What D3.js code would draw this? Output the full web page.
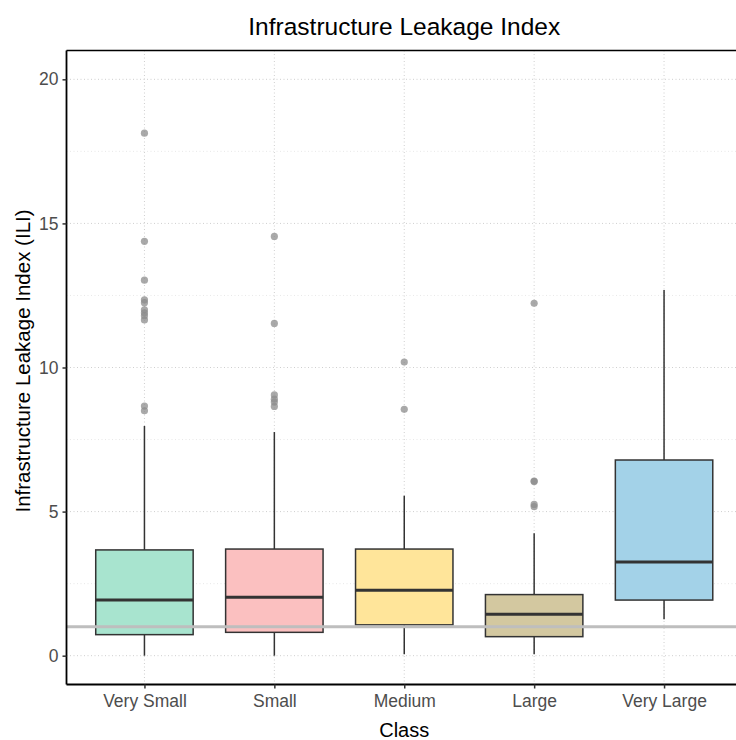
<!DOCTYPE html>
<html>
<head>
<meta charset="utf-8">
<script src="https://cdn.jsdelivr.net/npm/d3@7"></script>
<style>
  html, body { margin: 0; padding: 0; background: #fff; }
  svg { display: block; font-family: "Liberation Sans", Arial, sans-serif; }
</style>
</head>
<body>
<svg id="chart" width="736" height="740"></svg>
<script>
// Utility size classes and their box-plot summaries (ILI values)
const classes   = ["Very Small", "Small", "Medium", "Large", "Very Large"];
const whiskerLo = [0.0, 0.0, 0.05, 0.05, 1.26];
const q1        = [0.73, 0.81, 1.07, 0.66, 1.93];
const medians   = [1.93, 2.03, 2.27, 1.44, 3.25];
const q3        = [3.67, 3.70, 3.70, 2.12, 6.79];
const whiskerHi = [7.97, 7.76, 5.55, 4.25, 12.69];
const outliers  = [
  [18.13, 14.38, 13.03, 12.35, 12.25, 12.0, 11.9, 11.8, 11.65, 8.66, 8.5],
  [14.55, 11.53, 9.05, 8.9, 8.8, 8.65],
  [10.19, 8.55],
  [12.23, 6.06, 6.04, 5.25, 5.17],
  []
];
const fills     = ["#a8e4cf", "#fbc0c0", "#ffe59a", "#d3c8a0", "#a3d2e8"];
const yTicks    = [0, 5, 10, 15, 20];
const yMinor    = [2.5, 7.5, 12.5, 17.5];
const refValue  = 1;

const svg = d3.select("#chart");
const pLeft = 66.5, pRight = 742, pTop = 50.5, pBottom = 684.5;
const FONT = "Liberation Sans, Arial, sans-serif";

// discrete x scale with 0.6-step expansion on both sides
const x = d3.scalePoint().domain(classes).range([pLeft, pRight]).padding(0.6);
const step = x.step();
const boxW = step * 0.75;

const y = d3.scaleLinear().domain([-1, 21]).range([pBottom, pTop]);

const g = svg.append("g");

// minor grid
g.selectAll(".gminor").data(yMinor).join("line")
  .attr("x1", pLeft).attr("x2", pRight)
  .attr("y1", d => y(d)).attr("y2", d => y(d))
  .attr("stroke", "#e2e2e2").attr("stroke-width", 0.8).attr("stroke-dasharray", "1,2.5");
// major grid
g.selectAll(".gmajor").data(yTicks).join("line")
  .attr("x1", pLeft).attr("x2", pRight)
  .attr("y1", d => y(d)).attr("y2", d => y(d))
  .attr("stroke", "#cfcfcf").attr("stroke-width", 1).attr("stroke-dasharray", "1,2.5");
g.selectAll(".gx").data(classes).join("line")
  .attr("x1", d => x(d)).attr("x2", d => x(d))
  .attr("y1", pTop).attr("y2", pBottom)
  .attr("stroke", "#cfcfcf").attr("stroke-width", 1).attr("stroke-dasharray", "1,2.5");

// boxes
const boxes = classes.map((c, i) => ({ c, i }));
const bg = g.selectAll(".box").data(boxes).join("g");
bg.append("line")
  .attr("x1", d => x(d.c)).attr("x2", d => x(d.c))
  .attr("y1", d => y(q3[d.i])).attr("y2", d => y(whiskerHi[d.i]))
  .attr("stroke", "#333").attr("stroke-width", 1.5);
bg.append("line")
  .attr("x1", d => x(d.c)).attr("x2", d => x(d.c))
  .attr("y1", d => y(q1[d.i])).attr("y2", d => y(whiskerLo[d.i]))
  .attr("stroke", "#333").attr("stroke-width", 1.5);
bg.append("rect")
  .attr("x", d => x(d.c) - boxW / 2).attr("width", boxW)
  .attr("y", d => y(q3[d.i])).attr("height", d => y(q1[d.i]) - y(q3[d.i]))
  .attr("fill", d => fills[d.i]).attr("stroke", "#333").attr("stroke-width", 1.5);
bg.append("line")
  .attr("x1", d => x(d.c) - boxW / 2).attr("x2", d => x(d.c) + boxW / 2)
  .attr("y1", d => y(medians[d.i])).attr("y2", d => y(medians[d.i]))
  .attr("stroke", "#333").attr("stroke-width", 3);

// outlier points
const pts = [];
classes.forEach((c, i) => outliers[i].forEach(v => pts.push({ c, v })));
g.selectAll(".pt").data(pts).join("circle")
  .attr("cx", d => x(d.c)).attr("cy", d => y(d.v)).attr("r", 3.6)
  .attr("fill", "#8c8c8c").attr("fill-opacity", 0.75);

// reference line at ILI = 1
g.append("line")
  .attr("x1", pLeft).attr("x2", pRight)
  .attr("y1", y(refValue)).attr("y2", y(refValue))
  .attr("stroke", "#bebebe").attr("stroke-width", 3);

// panel border (top) and axes
g.append("line").attr("x1", pLeft).attr("x2", pRight).attr("y1", pTop).attr("y2", pTop)
  .attr("stroke", "#000").attr("stroke-width", 1.6);

const yAxis = g.append("g").attr("transform", `translate(${pLeft},0)`)
  .call(d3.axisLeft(y).tickValues(yTicks).tickSize(4).tickPadding(4));
yAxis.select(".domain").attr("stroke", "#000").attr("stroke-width", 1.8)
  .attr("d", `M0,${pTop}V${pBottom}`);
yAxis.selectAll(".tick line").attr("stroke", "#333").attr("stroke-width", 1.5);
yAxis.selectAll("text").attr("fill", "#4d4d4d").attr("font-size", 17.5)
  .attr("font-family", FONT);

const xAxis = g.append("g").attr("transform", `translate(0,${pBottom})`)
  .call(d3.axisBottom(x).tickSize(4).tickPadding(6));
xAxis.select(".domain").attr("stroke", "#000").attr("stroke-width", 1.8)
  .attr("d", `M${pLeft},0H${pRight}`);
xAxis.selectAll(".tick line").attr("stroke", "#333").attr("stroke-width", 1.5);
xAxis.selectAll("text").attr("fill", "#4d4d4d").attr("font-size", 17.5)
  .attr("font-family", FONT);

// titles
const mid = (pLeft + pRight) / 2;
svg.append("text").attr("x", mid).attr("y", 35).attr("text-anchor", "middle")
  .attr("font-size", 24.5).attr("fill", "#000").text("Infrastructure Leakage Index");
svg.append("text").attr("x", mid).attr("y", 737).attr("text-anchor", "middle")
  .attr("font-size", 20).attr("fill", "#000").text("Class");
svg.append("text")
  .attr("transform", `translate(30,361) rotate(-90)`)
  .attr("text-anchor", "middle").attr("font-size", 20.5).attr("fill", "#000")
  .text("Infrastructure Leakage Index (ILI)");
</script>
</body>
</html>
